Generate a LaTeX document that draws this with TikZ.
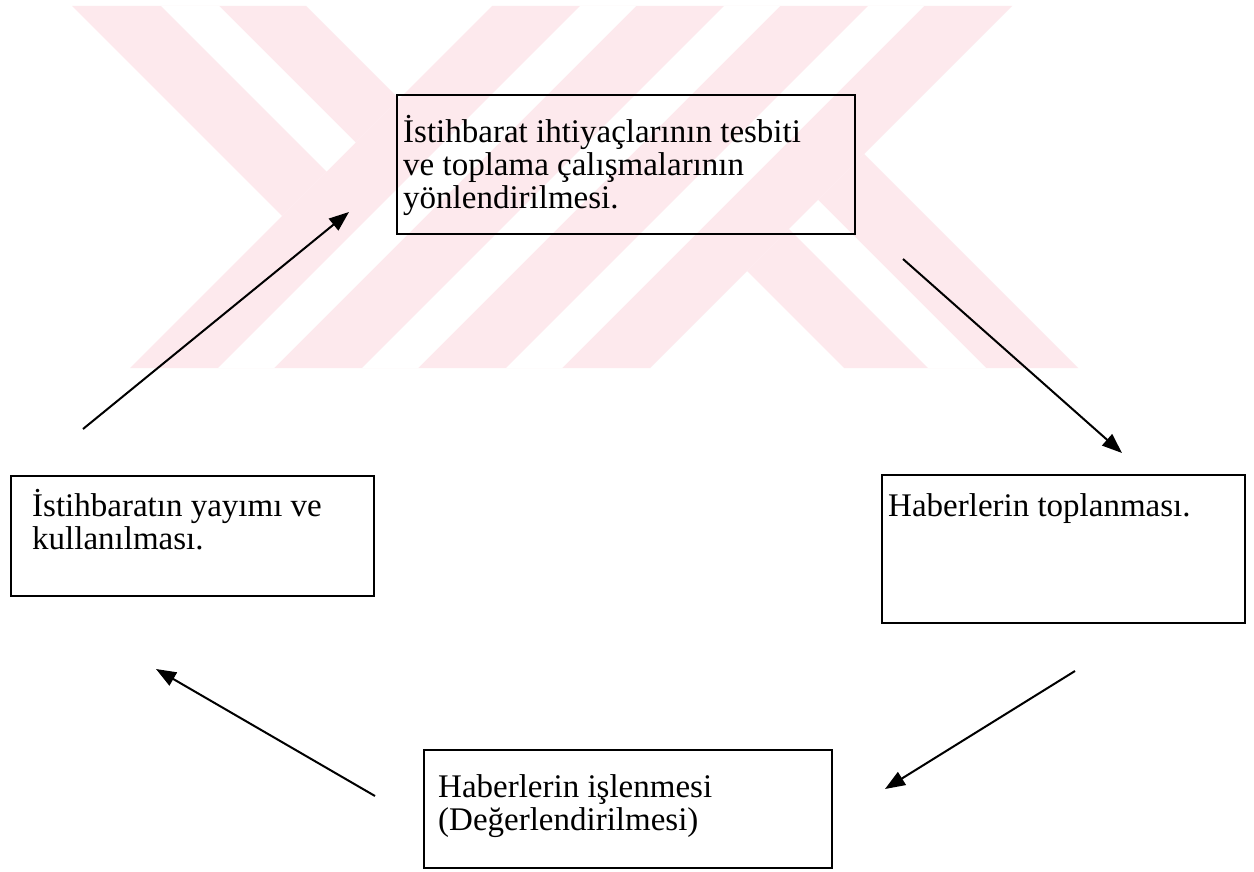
\documentclass[tikz,border=0pt]{standalone}
\usepackage{fontspec}
\setmainfont{Liberation Serif}
\usetikzlibrary{arrows.meta}
\definecolor{wm}{RGB}{253,233,237}
\tikzset{
  box/.style={draw=black, line width=1.8pt, rectangle, inner sep=0pt, anchor=north west},
  txt/.style={anchor=base west, inner sep=0pt, font=\fontsize{33}{33}\selectfont, text=black},
  conn/.style={draw=black, line width=2pt, -{Triangle[length=20pt,width=15pt]}},
  wmpink/.style={fill=wm},
  wmgap/.style={fill=white},
}
\begin{document}
\begin{tikzpicture}[x=1pt,y=-1pt]
\useasboundingbox (0,0) rectangle (1254,872);
\fill[white] (0,0) rectangle (1254,872);
% watermark
\fill[wmpink] (72,6) -- (306,6) -- (399,99) -- (282,216) -- cycle;
\fill[wmpink] (492,6) -- (1012,6) -- (650,368) -- (130,368) -- cycle;
\fill[wmpink] (864,154) -- (1078,368) -- (844,368) -- (747,271) -- cycle;
\fill[wmgap] (161,6) -- (219,6) -- (355.5,142.5) -- (326.5,171.5) -- cycle;
\fill[wmgap] (580,6) -- (636,6) -- (274,368) -- (218,368) -- cycle;
\fill[wmgap] (724,6) -- (780,6) -- (418,368) -- (362,368) -- cycle;
\fill[wmgap] (868,6) -- (924,6) -- (562,368) -- (506,368) -- cycle;
\fill[wmgap] (789,229) -- (818,200) -- (986,368) -- (928,368) -- cycle;
% boxes
\node[box, minimum width=458pt, minimum height=139pt] (b1) at (396,94) {};
\node[box, minimum width=363pt, minimum height=120pt] (b2) at (10,475) {};
\node[box, minimum width=363pt, minimum height=148pt] (b3) at (881,474) {};
\node[box, minimum width=408pt, minimum height=118pt] (b4) at (423,749) {};
% texts
\node[txt] (t1) at (403,143) {\parbox[t]{440pt}{\raggedright İstihbarat ihtiyaçlarının tesbiti\\ve toplama çalışmalarının\\yönlendirilmesi.}};
\node[txt] (t2) at (32,516) {\parbox[t]{340pt}{\raggedright İstihbaratın yayımı ve\\kullanılması.}};
\node[txt] (t3) at (888,516) {Haberlerin toplanması.};
\node[txt] (t4) at (438,797) {\parbox[t]{380pt}{\raggedright Haberlerin işlenmesi\\(Değerlendirilmesi)}};
% connectors
\coordinate (a1s) at (83,429);  \coordinate (a1e) at (349,212);
\coordinate (a2s) at (903,259); \coordinate (a2e) at (1122,453);
\coordinate (a3s) at (1075,671); \coordinate (a3e) at (885,789);
\coordinate (a4s) at (375,796); \coordinate (a4e) at (156,669);
\draw[conn] (a1s) -- (a1e);
\draw[conn] (a2s) -- (a2e);
\draw[conn] (a3s) -- (a3e);
\draw[conn] (a4s) -- (a4e);
\end{tikzpicture}
\end{document}
